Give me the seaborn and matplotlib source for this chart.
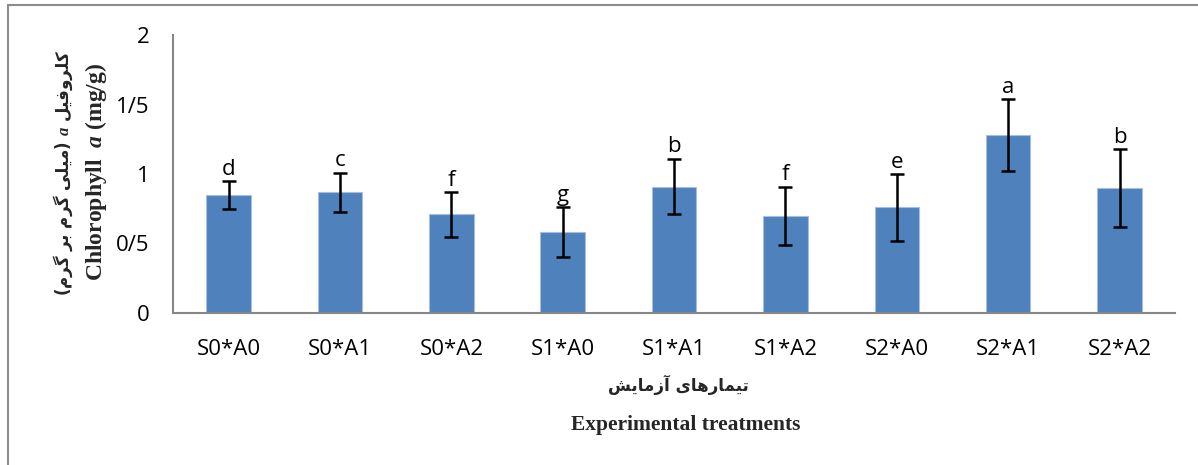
import numpy as np
import pandas as pd
import matplotlib
matplotlib.use("Agg")
import matplotlib.pyplot as plt
import seaborn as sns

# ---------------------------------------------------------------- data
treatments = ["S0*A0", "S0*A1", "S0*A2", "S1*A0", "S1*A1",
              "S1*A2", "S2*A0", "S2*A1", "S2*A2"]
chl_a = [0.85, 0.87, 0.71, 0.58, 0.91, 0.70, 0.76, 1.28, 0.90]
chl_err = [0.10, 0.14, 0.16, 0.18, 0.20, 0.21, 0.24, 0.26, 0.28]
letters = ["d", "c", "f", "g", "b", "f", "e", "a", "b"]
y_ticks = [0, 0.5, 1, 1.5, 2]
y_tick_labels = ["0", "0/5", "1", "1/5", "2"]

# ------------------------------------------------ tiny persian shaping
# (isolated, final, initial, medial); None -> letter joins to the right only
FORMS = {
    "ت": ("\uFE95", "\uFE96", "\uFE97", "\uFE98"),
    "ی": ("\uFBFC", "\uFBFD", "\uFBFE", "\uFBFF"),
    "م": ("\uFEE1", "\uFEE2", "\uFEE3", "\uFEE4"),
    "ه": ("\uFEE9", "\uFEEA", "\uFEEB", "\uFEEC"),
    "ش": ("\uFEB5", "\uFEB6", "\uFEB7", "\uFEB8"),
    "ک": ("\uFB8E", "\uFB8F", "\uFB90", "\uFB91"),
    "ل": ("\uFEDD", "\uFEDE", "\uFEDF", "\uFEE0"),
    "ف": ("\uFED1", "\uFED2", "\uFED3", "\uFED4"),
    "گ": ("\uFB92", "\uFB93", "\uFB94", "\uFB95"),
    "ب": ("\uFE8F", "\uFE90", "\uFE91", "\uFE92"),
    "ا": ("\uFE8D", "\uFE8E", None, None),
    "آ": ("\uFE81", "\uFE82", None, None),
    "ر": ("\uFEAD", "\uFEAE", None, None),
    "ز": ("\uFEAF", "\uFEB0", None, None),
    "و": ("\uFEED", "\uFEEE", None, None),
}


def shape(word):
    out = []
    for i, ch in enumerate(word):
        if ch not in FORMS:
            out.append(ch)
            continue
        prev = word[i - 1] if i > 0 else ""
        nxt = word[i + 1] if i + 1 < len(word) else ""
        join_prev = prev in FORMS and FORMS[prev][2] is not None
        join_next = nxt in FORMS and FORMS[ch][2] is not None
        f = FORMS[ch]
        if join_prev and join_next:
            out.append(f[3])
        elif join_prev:
            out.append(f[1])
        elif join_next:
            out.append(f[2])
        else:
            out.append(f[0])
    return "".join(out)


def rtl(text):
    return shape(text)[::-1]


# ---------------------------------------------------------------- style
sns.set_theme(style="white")
plt.rcParams["font.family"] = ["Open Sans", "DejaVu Sans"]
plt.rcParams["mathtext.fontset"] = "custom"
plt.rcParams["mathtext.it"] = "Liberation Serif:italic:bold"
plt.rcParams["mathtext.rm"] = "Liberation Serif:bold"
axis_grey = "#868686"
bar_blue = "#4F81BD"

df = pd.DataFrame({"treatment": treatments, "chl": chl_a, "err": chl_err})

fig = plt.figure(figsize=(11.98, 4.65), dpi=100)
ax = fig.add_axes([0.1444, 0.3269, 0.8366, 0.5978])

sns.barplot(data=df, x="treatment", y="chl", color=bar_blue, saturation=1,
            width=0.4, errorbar=None, edgecolor="#A7BFDE", linewidth=0.8,
            ax=ax)
ax.errorbar(np.arange(len(treatments)), df["chl"], yerr=df["err"],
            fmt="none", ecolor="black", elinewidth=1.8, capsize=5,
            capthick=1.8, zorder=3)

for i, (v, e, s) in enumerate(zip(chl_a, chl_err, letters)):
    ax.text(i, v + e + 0.01, s, ha="center", va="bottom", fontsize=16,
            color="black")

ax.set_ylim(0, 2)
ax.set_xlim(-0.5, len(treatments) - 0.5)
ax.set_yticks(y_ticks)
ax.set_yticklabels(y_tick_labels, fontsize=16, color="black")
ax.set_xticks(np.arange(len(treatments)))
ax.set_xticklabels(treatments, fontsize=16, color="black")
ax.tick_params(axis="x", length=0, pad=19)
ax.set_xticks(np.arange(len(treatments) + 1) - 0.5, minor=True)
ax.tick_params(axis="x", which="minor", direction="out", length=7,
               width=1.2, color=axis_grey)
ax.tick_params(axis="y", direction="out", length=6, width=1.2,
               color=axis_grey, pad=11)

for side in ["top", "right"]:
    ax.spines[side].set_visible(False)
for side in ["left", "bottom"]:
    ax.spines[side].set_color(axis_grey)
    ax.spines[side].set_linewidth(1.5)
ax.set_xlabel("")
ax.set_ylabel("")

# y-axis titles (persian line and english line)
fa_y = "(" + rtl("میلی گرم بر گرم") + ") $a$ " + rtl("کلروفیل")
fig.text(0.053, 0.627, fa_y, rotation=90, ha="center", va="center",
         fontsize=12, fontweight="bold", family="DejaVu Sans")
fig.text(0.080, 0.631, "Chlorophyll  $a$ (mg/g)", rotation=90,
         ha="center", va="center", fontsize=17, fontweight="bold",
         family="Liberation Serif")

# x-axis titles
fig.text(0.566, 0.172, rtl("تیمارهای آزمایش"), ha="center", va="center",
         fontsize=12, fontweight="bold", family="DejaVu Sans")
fig.text(0.572, 0.085, "Experimental treatments", ha="center", va="center",
         fontsize=15.5, fontweight="bold", family="Liberation Serif")

# outer chart frame, only its top and left edges fall inside the image
frame = plt.Rectangle((8 / 1198, -0.1), 1.2, 1.089,
                      transform=fig.transFigure, fill=False,
                      edgecolor="#8C8C8C", linewidth=1.5, clip_on=False)
fig.patches.append(frame)

fig.savefig("out.png", dpi=100)
